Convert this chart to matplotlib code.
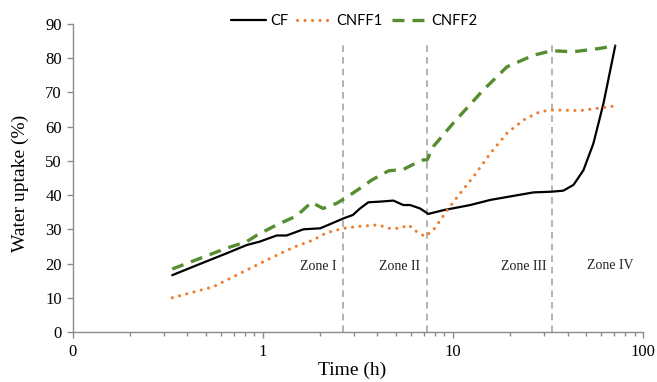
import matplotlib
matplotlib.use("Agg")
import matplotlib.pyplot as plt
from matplotlib.ticker import FixedLocator, FixedFormatter, LogLocator, NullFormatter

# ---- data ----
cf_t = [0.333, 0.43, 0.644, 0.82, 0.96, 1.18, 1.33, 1.63, 2.0, 2.25, 2.65, 2.97, 3.24,
        3.58, 4.13, 4.85, 5.47, 5.94, 6.7, 7.41, 8.89, 12.3, 15.7, 26.5, 33.0, 38.0,
        43.0, 48.5, 54.7, 61.8, 71.3]
cf_v = [16.6, 19.1, 23.0, 25.4, 26.4, 28.2, 28.2, 30.0, 30.3, 31.5, 33.2, 34.2, 36.1,
        37.9, 38.1, 38.4, 37.1, 37.1, 36.1, 34.5, 35.6, 37.1, 38.6, 40.8, 41.0, 41.3,
        43.0, 47.3, 55.1, 66.8, 83.7]

cnff1_t = [0.333, 0.547, 0.93, 1.09, 1.44, 1.84, 2.16, 2.65, 3.11, 4.05, 4.57, 5.26,
           5.82, 6.44, 7.12, 7.87, 9.08, 10.7, 12.8, 15.7, 19.2, 23.5, 28.7, 33.7,
           46.6, 69.8]
cnff1_v = [10.0, 13.2, 19.6, 21.5, 24.7, 26.9, 29.0, 30.3, 30.8, 31.3, 30.3, 30.3,
           31.3, 29.3, 27.9, 29.8, 34.7, 40.0, 45.4, 52.2, 58.1, 62.0, 64.4, 64.9,
           64.7, 66.0]

cnff2_t = [0.333, 0.644, 0.82, 0.93, 1.18, 1.5, 1.8, 2.07, 2.44, 2.76, 3.24, 3.73,
           4.57, 5.47, 6.07, 6.98, 7.3, 7.87, 10.0, 14.4, 19.2, 26.5, 33.0, 43.0,
           59.4, 71.3]
cnff2_v = [18.4, 24.5, 26.4, 28.3, 31.3, 33.9, 37.9, 36.1, 37.6, 39.4, 42.0, 44.4,
           47.1, 47.5, 48.8, 50.3, 50.3, 54.2, 61.0, 70.7, 77.5, 80.9, 82.2, 81.9,
           82.9, 83.7]

zone_bounds = [2.64, 7.3, 33.2]
zone_labels = ["Zone I", "Zone II", "Zone III", "Zone IV"]
zone_label_t = [1.95, 5.2, 23.6, 67.0]
zone_label_v = [19.0, 19.0, 19.0, 19.3]

x_ticks = [0.1, 1, 10, 100]
x_tick_labels = ["0", "1", "10", "100"]
y_ticks = [0, 10, 20, 30, 40, 50, 60, 70, 80, 90]

serif = ["Liberation Serif", "DejaVu Serif"]
sans = ["Lato", "DejaVu Sans"]

fig = plt.figure(figsize=(6.57, 3.82), dpi=100)
ax = fig.add_axes([0.111, 0.131, 0.868, 0.806])

grey = "#A6A6A6"
for b in zone_bounds:
    ax.plot([b, b], [0, 85], color=grey, lw=1.2, ls=(0, (4, 3)), zorder=1)

ax.plot(cf_t, cf_v, color="black", lw=1.6, label="CF", zorder=3,
        solid_joinstyle="round", solid_capstyle="round")
ax.plot(cnff1_t, cnff1_v, color="#ED7D31", lw=2.2, ls=(0, (0.05, 2.4)), label="CNFF1",
        zorder=3, dash_capstyle="round")
ax.plot(cnff2_t, cnff2_v, color="#578D31", lw=2.4, ls=(0, (3.6, 2.4)), label="CNFF2",
        zorder=3)

for lab, t, v in zip(zone_labels, zone_label_t, zone_label_v):
    ax.text(t, v, lab, ha="center", va="center", fontsize=10, family=serif,
            color="#222222")

ax.set_xscale("log")
ax.set_xlim(0.1, 100)
ax.set_ylim(0, 90)
ax.xaxis.set_major_locator(FixedLocator(x_ticks))
ax.xaxis.set_major_formatter(FixedFormatter(x_tick_labels))
ax.xaxis.set_minor_locator(LogLocator(base=10, subs=range(2, 10)))
ax.xaxis.set_minor_formatter(NullFormatter())
ax.set_yticks(y_ticks)

for s in ["top", "right"]:
    ax.spines[s].set_visible(False)
for s in ["left", "bottom"]:
    ax.spines[s].set_color("#8C8C8C")
    ax.spines[s].set_linewidth(1.0)

ax.tick_params(axis="both", which="major", direction="out", length=4, width=1.0,
               color="#8C8C8C", labelsize=12, pad=4)
ax.tick_params(axis="x", which="minor", direction="out", length=3, width=1.0,
               color="#8C8C8C")
ax.tick_params(axis="x", which="major", pad=5)
for lbl in ax.get_xticklabels() + ax.get_yticklabels():
    lbl.set_family(serif)

ax.set_xlabel("Time (h)", fontsize=14, family=serif)
ax.xaxis.set_label_coords(0.489, -0.097)
ax.set_ylabel("Water uptake (%)", fontsize=14, family=serif)
ax.yaxis.set_label_coords(-0.077, 0.484)

leg = fig.legend(loc="center", bbox_to_anchor=(0.539, 0.945), ncol=3, frameon=False,
                 prop={"family": sans, "size": 10.5}, handlelength=2.4,
                 handletextpad=0.3, columnspacing=0.6)

fig.savefig("out.png", dpi=100)
